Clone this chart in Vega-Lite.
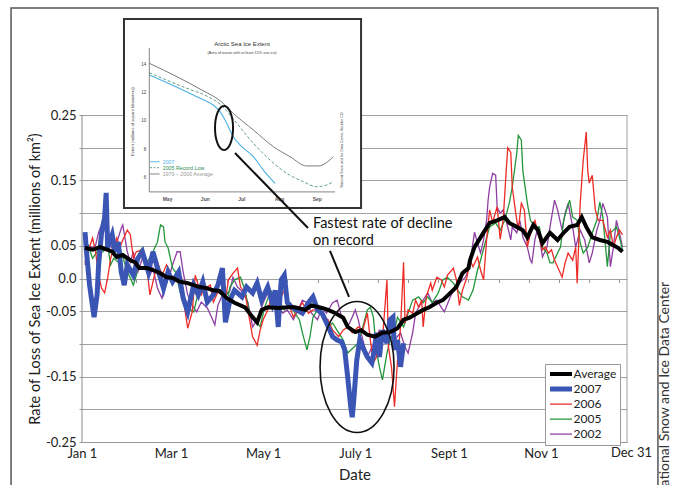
{
"$schema":"https://vega.github.io/schema/vega-lite/v6.json",
"width":545,"height":425,
"autosize":{"type":"none"},
"padding":{"left":82,"top":17,"right":46,"bottom":43},
"background":"white",
"config":{"view":{"stroke":null},"font":"Lato","text":{"font":"Lato"},
"legend":{"title":null,"orient":"none","legendX":463,"legendY":347,"strokeColor":"#999","fillColor":"white","padding":3,"rowPadding":0,"clipHeight":14.2,"labelFontSize":12,"labelFont":"Lato","labelColor":"#222","symbolType":"M-2.75,0L2.75,0","symbolSize":64,"symbolOffset":6.5,"labelOffset":6}},
"datasets":{
"main":[
{"series":"Average","day":2,"value":0.047},{"series":"Average","day":7,"value":0.044},{"series":"Average","day":12,"value":0.048},{"series":"Average","day":17,"value":0.044},{"series":"Average","day":20,"value":0.041},{"series":"Average","day":23,"value":0.033},{"series":"Average","day":27,"value":0.036},{"series":"Average","day":32,"value":0.028},{"series":"Average","day":35,"value":0.025},{"series":"Average","day":38,"value":0.016},{"series":"Average","day":43,"value":0.016},{"series":"Average","day":47,"value":0.013},{"series":"Average","day":52,"value":0.008},{"series":"Average","day":56,"value":0.002},{"series":"Average","day":60,"value":0.001},{"series":"Average","day":65,"value":-0.005},{"series":"Average","day":70,"value":-0.007},{"series":"Average","day":74,"value":-0.010},{"series":"Average","day":78,"value":-0.013},{"series":"Average","day":83,"value":-0.015},{"series":"Average","day":87,"value":-0.018},{"series":"Average","day":91,"value":-0.019},{"series":"Average","day":96,"value":-0.030},{"series":"Average","day":101,"value":-0.037},{"series":"Average","day":108,"value":-0.044},{"series":"Average","day":113,"value":-0.059},{"series":"Average","day":116,"value":-0.067},{"series":"Average","day":119,"value":-0.048},{"series":"Average","day":123,"value":-0.044},{"series":"Average","day":130,"value":-0.045},{"series":"Average","day":136,"value":-0.044},{"series":"Average","day":141,"value":-0.044},{"series":"Average","day":148,"value":-0.048},{"series":"Average","day":152,"value":-0.041},{"series":"Average","day":159,"value":-0.045},{"series":"Average","day":163,"value":-0.048},{"series":"Average","day":168,"value":-0.053},{"series":"Average","day":173,"value":-0.060},{"series":"Average","day":176,"value":-0.074},{"series":"Average","day":181,"value":-0.082},{"series":"Average","day":185,"value":-0.079},{"series":"Average","day":189,"value":-0.086},{"series":"Average","day":194,"value":-0.089},{"series":"Average","day":199,"value":-0.083},{"series":"Average","day":204,"value":-0.082},{"series":"Average","day":209,"value":-0.076},{"series":"Average","day":213,"value":-0.063},{"series":"Average","day":217,"value":-0.060},{"series":"Average","day":222,"value":-0.053},{"series":"Average","day":226,"value":-0.048},{"series":"Average","day":230,"value":-0.044},{"series":"Average","day":235,"value":-0.037},{"series":"Average","day":239,"value":-0.033},{"series":"Average","day":244,"value":-0.022},{"series":"Average","day":248,"value":-0.013},{"series":"Average","day":252,"value":0.008},{"series":"Average","day":256,"value":0.016},{"series":"Average","day":257,"value":0.028},{"series":"Average","day":260,"value":0.048},{"series":"Average","day":264,"value":0.063},{"series":"Average","day":267,"value":0.074},{"series":"Average","day":270,"value":0.085},{"series":"Average","day":275,"value":0.089},{"series":"Average","day":280,"value":0.094},{"series":"Average","day":283,"value":0.085},{"series":"Average","day":288,"value":0.079},{"series":"Average","day":292,"value":0.074},{"series":"Average","day":295,"value":0.063},{"series":"Average","day":299,"value":0.082},{"series":"Average","day":302,"value":0.074},{"series":"Average","day":305,"value":0.054},{"series":"Average","day":310,"value":0.070},{"series":"Average","day":315,"value":0.059},{"series":"Average","day":319,"value":0.070},{"series":"Average","day":323,"value":0.079},{"series":"Average","day":328,"value":0.082},{"series":"Average","day":331,"value":0.094},{"series":"Average","day":334,"value":0.079},{"series":"Average","day":338,"value":0.063},{"series":"Average","day":343,"value":0.059},{"series":"Average","day":348,"value":0.056},{"series":"Average","day":352,"value":0.051},{"series":"Average","day":355,"value":0.047},{"series":"Average","day":358,"value":0.041},
{"series":"2007","day":2,"value":0.071},{"series":"2007","day":3,"value":0.041},{"series":"2007","day":5,"value":-0.010},{"series":"2007","day":8,"value":-0.059},{"series":"2007","day":10,"value":-0.025},{"series":"2007","day":11,"value":0.021},{"series":"2007","day":13,"value":0.071},{"series":"2007","day":15,"value":0.093},{"series":"2007","day":16,"value":0.131},{"series":"2007","day":17,"value":0.047},{"series":"2007","day":20,"value":0.067},{"series":"2007","day":22,"value":0.041},{"series":"2007","day":24,"value":0.056},{"series":"2007","day":26,"value":0.010},{"series":"2007","day":28,"value":-0.010},{"series":"2007","day":30,"value":0.021},{"series":"2007","day":34,"value":0.005},{"series":"2007","day":37,"value":0.031},{"series":"2007","day":40,"value":0.041},{"series":"2007","day":44,"value":0.010},{"series":"2007","day":47,"value":0.041},{"series":"2007","day":50,"value":0.016},{"series":"2007","day":54,"value":-0.015},{"series":"2007","day":57,"value":0.010},{"series":"2007","day":60,"value":-0.005},{"series":"2007","day":64,"value":0.010},{"series":"2007","day":67,"value":-0.030},{"series":"2007","day":70,"value":-0.051},{"series":"2007","day":74,"value":-0.010},{"series":"2007","day":77,"value":-0.025},{"series":"2007","day":80,"value":-0.005},{"series":"2007","day":83,"value":-0.036},{"series":"2007","day":87,"value":-0.025},{"series":"2007","day":90,"value":-0.010},{"series":"2007","day":93,"value":0.016},{"series":"2007","day":95,"value":-0.067},{"series":"2007","day":98,"value":-0.033},{"series":"2007","day":101,"value":-0.018},{"series":"2007","day":106,"value":-0.028},{"series":"2007","day":109,"value":-0.013},{"series":"2007","day":113,"value":-0.022},{"series":"2007","day":116,"value":-0.007},{"series":"2007","day":119,"value":-0.033},{"series":"2007","day":123,"value":-0.013},{"series":"2007","day":126,"value":-0.037},{"series":"2007","day":128,"value":-0.018},{"series":"2007","day":130,"value":-0.074},{"series":"2007","day":131,"value":-0.033},{"series":"2007","day":132,"value":-0.002},{"series":"2007","day":134,"value":0.005},{"series":"2007","day":136,"value":-0.037},{"series":"2007","day":139,"value":-0.044},{"series":"2007","day":142,"value":-0.048},{"series":"2007","day":146,"value":-0.053},{"series":"2007","day":150,"value":-0.037},{"series":"2007","day":153,"value":-0.028},{"series":"2007","day":156,"value":-0.048},{"series":"2007","day":159,"value":-0.053},{"series":"2007","day":162,"value":-0.068},{"series":"2007","day":166,"value":-0.089},{"series":"2007","day":169,"value":-0.094},{"series":"2007","day":172,"value":-0.097},{"series":"2007","day":174,"value":-0.109},{"series":"2007","day":176,"value":-0.151},{"series":"2007","day":178,"value":-0.196},{"series":"2007","day":179,"value":-0.212},{"series":"2007","day":180,"value":-0.186},{"series":"2007","day":182,"value":-0.125},{"series":"2007","day":184,"value":-0.094},{"series":"2007","day":186,"value":-0.105},{"series":"2007","day":189,"value":-0.120},{"series":"2007","day":192,"value":-0.129},{"series":"2007","day":194,"value":-0.105},{"series":"2007","day":195,"value":-0.083},{"series":"2007","day":197,"value":-0.120},{"series":"2007","day":199,"value":-0.079},{"series":"2007","day":202,"value":-0.099},{"series":"2007","day":204,"value":-0.063},{"series":"2007","day":206,"value":-0.059},{"series":"2007","day":207,"value":-0.109},{"series":"2007","day":209,"value":-0.094},{"series":"2007","day":211,"value":-0.135},{"series":"2007","day":213,"value":-0.099},
{"series":"2006","day":2,"value":0.025},{"series":"2006","day":4,"value":0.041},{"series":"2006","day":7,"value":0.062},{"series":"2006","day":9,"value":0.041},{"series":"2006","day":11,"value":0.005},{"series":"2006","day":13,"value":-0.015},{"series":"2006","day":15,"value":-0.022},{"series":"2006","day":17,"value":0.001},{"series":"2006","day":19,"value":0.031},{"series":"2006","day":21,"value":0.047},{"series":"2006","day":23,"value":0.062},{"series":"2006","day":25,"value":0.047},{"series":"2006","day":27,"value":0.059},{"series":"2006","day":30,"value":0.074},{"series":"2006","day":32,"value":0.067},{"series":"2006","day":34,"value":0.031},{"series":"2006","day":36,"value":0.041},{"series":"2006","day":40,"value":0.044},{"series":"2006","day":43,"value":0.016},{"series":"2006","day":45,"value":-0.025},{"series":"2006","day":47,"value":-0.005},{"series":"2006","day":50,"value":0.025},{"series":"2006","day":53,"value":0.005},{"series":"2006","day":56,"value":0.021},{"series":"2006","day":60,"value":0.001},{"series":"2006","day":63,"value":-0.005},{"series":"2006","day":66,"value":0.001},{"series":"2006","day":68,"value":-0.045},{"series":"2006","day":70,"value":-0.076},{"series":"2006","day":73,"value":-0.051},{"series":"2006","day":75,"value":0.005},{"series":"2006","day":77,"value":-0.010},{"series":"2006","day":79,"value":-0.025},{"series":"2006","day":81,"value":-0.015},{"series":"2006","day":85,"value":-0.010},{"series":"2006","day":87,"value":-0.036},{"series":"2006","day":90,"value":-0.021},{"series":"2006","day":93,"value":-0.025},{"series":"2006","day":95,"value":-0.033},{"series":"2006","day":97,"value":-0.002},{"series":"2006","day":100,"value":0.008},{"series":"2006","day":103,"value":0.016},{"series":"2006","day":105,"value":-0.013},{"series":"2006","day":108,"value":-0.022},{"series":"2006","day":111,"value":-0.063},{"series":"2006","day":113,"value":-0.089},{"series":"2006","day":116,"value":-0.102},{"series":"2006","day":118,"value":-0.079},{"series":"2006","day":120,"value":-0.063},{"series":"2006","day":123,"value":-0.048},{"series":"2006","day":125,"value":-0.033},{"series":"2006","day":128,"value":-0.022},{"series":"2006","day":131,"value":-0.033},{"series":"2006","day":134,"value":-0.018},{"series":"2006","day":136,"value":-0.033},{"series":"2006","day":140,"value":-0.059},{"series":"2006","day":143,"value":-0.048},{"series":"2006","day":146,"value":-0.037},{"series":"2006","day":150,"value":-0.053},{"series":"2006","day":153,"value":-0.048},{"series":"2006","day":156,"value":-0.048},{"series":"2006","day":160,"value":-0.059},{"series":"2006","day":163,"value":-0.063},{"series":"2006","day":166,"value":-0.079},{"series":"2006","day":170,"value":-0.089},{"series":"2006","day":173,"value":-0.079},{"series":"2006","day":176,"value":-0.074},{"series":"2006","day":179,"value":-0.083},{"series":"2006","day":183,"value":-0.074},{"series":"2006","day":186,"value":-0.079},{"series":"2006","day":189,"value":-0.053},{"series":"2006","day":191,"value":-0.094},{"series":"2006","day":193,"value":-0.129},{"series":"2006","day":195,"value":-0.120},{"series":"2006","day":197,"value":-0.083},{"series":"2006","day":199,"value":-0.094},{"series":"2006","day":202,"value":-0.002},{"series":"2006","day":203,"value":-0.105},{"series":"2006","day":205,"value":-0.135},{"series":"2006","day":207,"value":-0.196},{"series":"2006","day":209,"value":-0.125},{"series":"2006","day":211,"value":-0.074},{"series":"2006","day":213,"value":0.025},{"series":"2006","day":214,"value":-0.068},{"series":"2006","day":216,"value":-0.048},{"series":"2006","day":219,"value":-0.053},{"series":"2006","day":221,"value":-0.033},{"series":"2006","day":223,"value":-0.044},{"series":"2006","day":225,"value":-0.033},{"series":"2006","day":226,"value":-0.074},{"series":"2006","day":228,"value":-0.028},{"series":"2006","day":231,"value":-0.007},{"series":"2006","day":232,"value":-0.018},{"series":"2006","day":235,"value":0.002},{"series":"2006","day":238,"value":-0.002},{"series":"2006","day":240,"value":-0.013},{"series":"2006","day":242,"value":0.005},{"series":"2006","day":246,"value":0.016},{"series":"2006","day":248,"value":-0.002},{"series":"2006","day":250,"value":-0.041},{"series":"2006","day":252,"value":-0.018},{"series":"2006","day":255,"value":0.002},{"series":"2006","day":257,"value":0.028},{"series":"2006","day":259,"value":0.018},{"series":"2006","day":262,"value":0.033},{"series":"2006","day":264,"value":0.013},{"series":"2006","day":266,"value":-0.002},{"series":"2006","day":268,"value":0.059},{"series":"2006","day":270,"value":0.105},{"series":"2006","day":272,"value":0.086},{"series":"2006","day":275,"value":0.110},{"series":"2006","day":277,"value":0.060},{"series":"2006","day":279,"value":0.090},{"series":"2006","day":281,"value":0.165},{"series":"2006","day":282,"value":0.200},{"series":"2006","day":284,"value":0.193},{"series":"2006","day":285,"value":0.140},{"series":"2006","day":287,"value":0.105},{"series":"2006","day":289,"value":0.074},{"series":"2006","day":291,"value":0.115},{"series":"2006","day":293,"value":0.105},{"series":"2006","day":295,"value":0.048},{"series":"2006","day":298,"value":0.079},{"series":"2006","day":300,"value":0.089},{"series":"2006","day":302,"value":0.070},{"series":"2006","day":305,"value":0.044},{"series":"2006","day":307,"value":0.048},{"series":"2006","day":309,"value":0.039},{"series":"2006","day":311,"value":0.044},{"series":"2006","day":313,"value":0.028},{"series":"2006","day":315,"value":0.018},{"series":"2006","day":318,"value":0.002},{"series":"2006","day":320,"value":0.024},{"series":"2006","day":322,"value":0.039},{"series":"2006","day":325,"value":0.028},{"series":"2006","day":327,"value":0.048},{"series":"2006","day":328,"value":-0.007},{"series":"2006","day":330,"value":0.115},{"series":"2006","day":332,"value":0.181},{"series":"2006","day":334,"value":0.224},{"series":"2006","day":335,"value":0.165},{"series":"2006","day":336,"value":0.146},{"series":"2006","day":338,"value":0.158},{"series":"2006","day":340,"value":0.105},{"series":"2006","day":342,"value":0.089},{"series":"2006","day":345,"value":0.089},{"series":"2006","day":348,"value":0.063},{"series":"2006","day":350,"value":0.074},{"series":"2006","day":352,"value":0.048},{"series":"2006","day":354,"value":0.063},{"series":"2006","day":356,"value":0.074},{"series":"2006","day":358,"value":0.067},
{"series":"2005","day":2,"value":0.041},{"series":"2005","day":4,"value":0.051},{"series":"2005","day":7,"value":0.031},{"series":"2005","day":10,"value":0.041},{"series":"2005","day":12,"value":0.062},{"series":"2005","day":14,"value":0.041},{"series":"2005","day":17,"value":0.051},{"series":"2005","day":19,"value":0.021},{"series":"2005","day":21,"value":0.031},{"series":"2005","day":24,"value":0.025},{"series":"2005","day":26,"value":0.041},{"series":"2005","day":30,"value":0.010},{"series":"2005","day":32,"value":0.001},{"series":"2005","day":34,"value":-0.010},{"series":"2005","day":36,"value":0.005},{"series":"2005","day":38,"value":0.041},{"series":"2005","day":40,"value":0.047},{"series":"2005","day":43,"value":0.025},{"series":"2005","day":46,"value":0.036},{"series":"2005","day":50,"value":0.056},{"series":"2005","day":52,"value":0.082},{"series":"2005","day":54,"value":0.079},{"series":"2005","day":55,"value":0.056},{"series":"2005","day":57,"value":0.047},{"series":"2005","day":60,"value":0.016},{"series":"2005","day":62,"value":0.010},{"series":"2005","day":65,"value":-0.021},{"series":"2005","day":68,"value":-0.030},{"series":"2005","day":70,"value":-0.045},{"series":"2005","day":74,"value":-0.051},{"series":"2005","day":77,"value":-0.021},{"series":"2005","day":80,"value":-0.005},{"series":"2005","day":83,"value":-0.015},{"series":"2005","day":87,"value":-0.021},{"series":"2005","day":90,"value":-0.005},{"series":"2005","day":93,"value":-0.010},{"series":"2005","day":97,"value":-0.025},{"series":"2005","day":98,"value":-0.013},{"series":"2005","day":101,"value":-0.002},{"series":"2005","day":105,"value":0.002},{"series":"2005","day":108,"value":-0.018},{"series":"2005","day":111,"value":-0.053},{"series":"2005","day":115,"value":-0.063},{"series":"2005","day":118,"value":-0.074},{"series":"2005","day":121,"value":-0.044},{"series":"2005","day":125,"value":-0.018},{"series":"2005","day":128,"value":-0.028},{"series":"2005","day":131,"value":-0.037},{"series":"2005","day":134,"value":-0.048},{"series":"2005","day":138,"value":-0.037},{"series":"2005","day":141,"value":-0.053},{"series":"2005","day":144,"value":-0.063},{"series":"2005","day":146,"value":-0.083},{"series":"2005","day":149,"value":-0.109},{"series":"2005","day":151,"value":-0.089},{"series":"2005","day":153,"value":-0.059},{"series":"2005","day":156,"value":-0.048},{"series":"2005","day":160,"value":-0.059},{"series":"2005","day":163,"value":-0.074},{"series":"2005","day":166,"value":-0.068},{"series":"2005","day":170,"value":-0.083},{"series":"2005","day":173,"value":-0.094},{"series":"2005","day":176,"value":-0.114},{"series":"2005","day":180,"value":-0.105},{"series":"2005","day":183,"value":-0.099},{"series":"2005","day":186,"value":-0.074},{"series":"2005","day":189,"value":-0.048},{"series":"2005","day":191,"value":-0.044},{"series":"2005","day":193,"value":-0.059},{"series":"2005","day":195,"value":-0.109},{"series":"2005","day":197,"value":-0.135},{"series":"2005","day":199,"value":-0.155},{"series":"2005","day":202,"value":-0.114},{"series":"2005","day":204,"value":-0.094},{"series":"2005","day":207,"value":-0.079},{"series":"2005","day":209,"value":-0.059},{"series":"2005","day":213,"value":-0.074},{"series":"2005","day":216,"value":-0.053},{"series":"2005","day":219,"value":-0.033},{"series":"2005","day":223,"value":-0.028},{"series":"2005","day":226,"value":-0.037},{"series":"2005","day":229,"value":-0.028},{"series":"2005","day":232,"value":-0.037},{"series":"2005","day":236,"value":-0.022},{"series":"2005","day":239,"value":-0.002},{"series":"2005","day":242,"value":0.002},{"series":"2005","day":246,"value":-0.007},{"series":"2005","day":249,"value":-0.018},{"series":"2005","day":252,"value":-0.028},{"series":"2005","day":256,"value":-0.033},{"series":"2005","day":259,"value":-0.018},{"series":"2005","day":262,"value":0.013},{"series":"2005","day":264,"value":0.028},{"series":"2005","day":267,"value":0.054},{"series":"2005","day":270,"value":0.079},{"series":"2005","day":274,"value":0.085},{"series":"2005","day":277,"value":0.074},{"series":"2005","day":280,"value":0.089},{"series":"2005","day":283,"value":0.115},{"series":"2005","day":285,"value":0.140},{"series":"2005","day":288,"value":0.192},{"series":"2005","day":289,"value":0.219},{"series":"2005","day":291,"value":0.212},{"series":"2005","day":292,"value":0.165},{"series":"2005","day":295,"value":0.115},{"series":"2005","day":297,"value":0.089},{"series":"2005","day":300,"value":0.079},{"series":"2005","day":303,"value":0.079},{"series":"2005","day":305,"value":0.048},{"series":"2005","day":308,"value":0.039},{"series":"2005","day":310,"value":0.024},{"series":"2005","day":312,"value":0.024},{"series":"2005","day":315,"value":0.039},{"series":"2005","day":317,"value":0.048},{"series":"2005","day":319,"value":0.089},{"series":"2005","day":321,"value":0.105},{"series":"2005","day":323,"value":0.120},{"series":"2005","day":325,"value":0.094},{"series":"2005","day":328,"value":0.089},{"series":"2005","day":330,"value":0.054},{"series":"2005","day":332,"value":0.039},{"series":"2005","day":335,"value":0.048},{"series":"2005","day":338,"value":0.070},{"series":"2005","day":341,"value":0.089},{"series":"2005","day":343,"value":0.117},{"series":"2005","day":345,"value":0.094},{"series":"2005","day":348,"value":0.018},{"series":"2005","day":350,"value":0.070},{"series":"2005","day":352,"value":0.074},{"series":"2005","day":354,"value":0.079},{"series":"2005","day":356,"value":0.063},{"series":"2005","day":358,"value":0.044},
{"series":"2002","day":2,"value":0.021},{"series":"2002","day":4,"value":0.051},{"series":"2002","day":7,"value":0.047},{"series":"2002","day":9,"value":0.051},{"series":"2002","day":11,"value":0.071},{"series":"2002","day":13,"value":0.082},{"series":"2002","day":14,"value":0.079},{"series":"2002","day":17,"value":0.067},{"series":"2002","day":19,"value":0.051},{"series":"2002","day":21,"value":0.041},{"series":"2002","day":24,"value":0.062},{"series":"2002","day":26,"value":0.077},{"series":"2002","day":27,"value":0.082},{"series":"2002","day":30,"value":0.041},{"series":"2002","day":32,"value":0.025},{"series":"2002","day":34,"value":0.041},{"series":"2002","day":37,"value":0.010},{"series":"2002","day":40,"value":0.031},{"series":"2002","day":43,"value":0.021},{"series":"2002","day":45,"value":0.005},{"series":"2002","day":47,"value":0.016},{"series":"2002","day":50,"value":-0.015},{"series":"2002","day":53,"value":-0.030},{"series":"2002","day":55,"value":-0.010},{"series":"2002","day":58,"value":0.005},{"series":"2002","day":60,"value":0.021},{"series":"2002","day":63,"value":0.041},{"series":"2002","day":65,"value":0.041},{"series":"2002","day":67,"value":0.010},{"series":"2002","day":70,"value":-0.025},{"series":"2002","day":73,"value":-0.041},{"series":"2002","day":76,"value":-0.051},{"series":"2002","day":79,"value":-0.036},{"series":"2002","day":83,"value":-0.045},{"series":"2002","day":86,"value":-0.060},{"series":"2002","day":88,"value":-0.071},{"series":"2002","day":90,"value":-0.041},{"series":"2002","day":93,"value":-0.025},{"series":"2002","day":97,"value":-0.021},{"series":"2002","day":98,"value":-0.018},{"series":"2002","day":100,"value":0.002},{"series":"2002","day":103,"value":-0.013},{"series":"2002","day":107,"value":-0.022},{"series":"2002","day":110,"value":-0.037},{"series":"2002","day":113,"value":-0.074},{"series":"2002","day":117,"value":-0.059},{"series":"2002","day":120,"value":-0.037},{"series":"2002","day":123,"value":-0.022},{"series":"2002","day":126,"value":-0.028},{"series":"2002","day":130,"value":-0.044},{"series":"2002","day":133,"value":-0.053},{"series":"2002","day":136,"value":-0.048},{"series":"2002","day":140,"value":-0.063},{"series":"2002","day":143,"value":-0.048},{"series":"2002","day":146,"value":-0.033},{"series":"2002","day":149,"value":-0.037},{"series":"2002","day":152,"value":-0.053},{"series":"2002","day":156,"value":-0.063},{"series":"2002","day":159,"value":-0.044},{"series":"2002","day":162,"value":-0.053},{"series":"2002","day":166,"value":-0.037},{"series":"2002","day":169,"value":-0.033},{"series":"2002","day":172,"value":-0.059},{"series":"2002","day":176,"value":-0.074},{"series":"2002","day":179,"value":-0.059},{"series":"2002","day":181,"value":-0.048},{"series":"2002","day":183,"value":-0.063},{"series":"2002","day":186,"value":-0.094},{"series":"2002","day":189,"value":-0.120},{"series":"2002","day":192,"value":-0.105},{"series":"2002","day":194,"value":-0.094},{"series":"2002","day":197,"value":-0.079},{"series":"2002","day":201,"value":-0.083},{"series":"2002","day":204,"value":-0.089},{"series":"2002","day":207,"value":-0.094},{"series":"2002","day":211,"value":-0.083},{"series":"2002","day":214,"value":-0.105},{"series":"2002","day":216,"value":-0.114},{"series":"2002","day":219,"value":-0.083},{"series":"2002","day":221,"value":-0.053},{"series":"2002","day":223,"value":-0.044},{"series":"2002","day":226,"value":-0.033},{"series":"2002","day":229,"value":-0.022},{"series":"2002","day":232,"value":-0.037},{"series":"2002","day":235,"value":-0.033},{"series":"2002","day":238,"value":-0.044},{"series":"2002","day":240,"value":-0.051},{"series":"2002","day":244,"value":-0.028},{"series":"2002","day":247,"value":-0.013},{"series":"2002","day":250,"value":-0.007},{"series":"2002","day":254,"value":0.002},{"series":"2002","day":256,"value":0.013},{"series":"2002","day":258,"value":0.039},{"series":"2002","day":260,"value":0.071},{"series":"2002","day":262,"value":0.054},{"series":"2002","day":264,"value":0.039},{"series":"2002","day":266,"value":0.059},{"series":"2002","day":268,"value":0.089},{"series":"2002","day":269,"value":0.120},{"series":"2002","day":270,"value":0.140},{"series":"2002","day":272,"value":0.161},{"series":"2002","day":274,"value":0.158},{"series":"2002","day":275,"value":0.109},{"series":"2002","day":277,"value":0.100},{"series":"2002","day":279,"value":0.105},{"series":"2002","day":282,"value":0.079},{"series":"2002","day":284,"value":0.059},{"series":"2002","day":285,"value":0.079},{"series":"2002","day":288,"value":0.070},{"series":"2002","day":290,"value":0.089},{"series":"2002","day":292,"value":0.063},{"series":"2002","day":295,"value":0.048},{"series":"2002","day":297,"value":0.028},{"series":"2002","day":298,"value":0.024},{"series":"2002","day":300,"value":0.059},{"series":"2002","day":302,"value":0.079},{"series":"2002","day":305,"value":0.033},{"series":"2002","day":308,"value":0.048},{"series":"2002","day":310,"value":0.079},{"series":"2002","day":313,"value":0.120},{"series":"2002","day":315,"value":0.105},{"series":"2002","day":318,"value":0.074},{"series":"2002","day":320,"value":0.100},{"series":"2002","day":322,"value":0.115},{"series":"2002","day":325,"value":0.079},{"series":"2002","day":327,"value":0.048},{"series":"2002","day":330,"value":0.074},{"series":"2002","day":333,"value":0.059},{"series":"2002","day":336,"value":0.024},{"series":"2002","day":338,"value":0.039},{"series":"2002","day":341,"value":0.074},{"series":"2002","day":343,"value":0.089},{"series":"2002","day":345,"value":0.115},{"series":"2002","day":348,"value":0.094},{"series":"2002","day":350,"value":0.018},{"series":"2002","day":352,"value":0.048},{"series":"2002","day":354,"value":0.089},{"series":"2002","day":356,"value":0.070},{"series":"2002","day":358,"value":0.048}
],
"inset":[
{"line":"avg","day":120,"extent":14.12},{"line":"avg","day":145.2,"extent":13.06},{"line":"avg","day":163,"extent":12.23},{"line":"avg","day":178.1,"extent":11.47},{"line":"avg","day":189,"extent":10.57},{"line":"avg","day":205.5,"extent":9.39},{"line":"avg","day":221.9,"extent":8.21},{"line":"avg","day":235.6,"extent":7.5},{"line":"avg","day":249.3,"extent":6.84},{"line":"avg","day":258.9,"extent":6.84},{"line":"avg","day":271.3,"extent":7.5},
{"line":"2005","day":120,"extent":13.45},{"line":"2005","day":150.7,"extent":12.35},{"line":"2005","day":167.2,"extent":11.8},{"line":"2005","day":178.1,"extent":11.23},{"line":"2005","day":191.8,"extent":9.87},{"line":"2005","day":205.5,"extent":8.45},{"line":"2005","day":219.2,"extent":7.26},{"line":"2005","day":232.9,"extent":6.32},{"line":"2005","day":246.5,"extent":5.72},{"line":"2005","day":257.5,"extent":5.37},{"line":"2005","day":265.8,"extent":5.49},{"line":"2005","day":271.2,"extent":5.72},
{"line":"2007","day":120,"extent":13.29},{"line":"2007","day":137,"extent":12.65},{"line":"2007","day":150.7,"extent":12.11},{"line":"2007","day":161.7,"extent":11.64},{"line":"2007","day":172.6,"extent":11.16},{"line":"2007","day":178.1,"extent":10.69},{"line":"2007","day":183.6,"extent":9.87},{"line":"2007","day":189,"extent":8.91},{"line":"2007","day":194.5,"extent":8.33},{"line":"2007","day":205.5,"extent":7.5},{"line":"2007","day":213.7,"extent":6.55},{"line":"2007","day":223.3,"extent":5.61}
]
},
"layer":[
{
"resolve":{"axis":{"x":"independent"}},
"layer":[
{"data":{"values":[{}]},"mark":{"type":"rect","fill":"white","fillOpacity":0,"stroke":"#555","strokeWidth":1.5},
 "encoding":{"x":{"datum":-47,"type":"quantitative","scale":{"domain":[0,361],"nice":false,"zero":false},"axis":null},"x2":{"datum":381.5},
 "y":{"datum":0.4138,"type":"quantitative","scale":{"domain":[-0.25,0.4],"nice":false,"zero":false}},"y2":{"datum":-0.335}}},
{"data":{"name":"main"},"transform":[{"filter":"datum.series === '2002'"}],"mark":{"type":"line"},
 "encoding":{
  "x":{"field":"day","type":"quantitative","scale":{"domain":[0,361],"nice":false,"zero":false},
   "axis":{"values":[0,59,120,181,243,304],"labelExpr":"datum.value == 0 ? 'Jan 1' : datum.value == 59 ? 'Mar 1' : datum.value == 120 ? 'May 1' : datum.value == 181 ? 'July 1' : datum.value == 243 ? 'Sept 1' : 'Nov 1'","ticks":false,"grid":false,"domainColor":"#999","labelFontSize":13,"labelColor":"#222","labelPadding":5,"labelFlush":false,"labelOverlap":false,"labelBound":false,"title":"Date","titleFontSize":15,"titleFontWeight":"normal","titleColor":"#222","titlePadding":7}},
  "y":{"field":"value","type":"quantitative","scale":{"domain":[-0.25,0.4],"nice":false,"zero":false},
   "axis":{"values":[-0.25,-0.2,-0.15,-0.1,-0.05,0,0.05,0.1,0.15,0.2,0.25],"labelExpr":"datum.value == 0 ? '0.0' : ((abs(datum.value) > 0.09 && abs(datum.value) < 0.11) || (abs(datum.value) > 0.19 && abs(datum.value) < 0.21)) ? '' : ((datum.value < 0 ? '-' : '') + format(abs(datum.value), '.2f'))","grid":true,"gridColor":"#a0a0a0","domain":false,"tickSize":3,"tickColor":"#999","labelFontSize":13,"labelColor":"#222","labelPadding":3,"labelOverlap":false,"title":"Rate of Loss of Sea Ice Extent (millions of km²)","titleFontSize":14.5,"titleFontWeight":"normal","titleColor":"#222","titleX":-47,"titleY":261.5,"titleBaseline":"middle"}},
  "color":{"field":"series","type":"nominal","scale":{"domain":["Average","2007","2006","2005","2002"],"range":["#000000","#3a55b4","#ee2b25","#23963a","#8f3fa3"]},"legend":{"title":null}},
  "strokeWidth":{"field":"series","type":"nominal","scale":{"type":"ordinal","domain":["Average","2007","2006","2005","2002"],"range":[4,5,1.3,1.3,1.3]},"legend":{"title":null}}}},
{"data":{"name":"main"},"transform":[{"filter":"datum.series === '2005'"}],"mark":{"type":"line"},
 "encoding":{"x":{"field":"day","type":"quantitative","scale":{"domain":[0,361],"nice":false,"zero":false},"axis":null},"y":{"field":"value","type":"quantitative","scale":{"domain":[-0.25,0.4],"nice":false,"zero":false}},
  "color":{"field":"series","type":"nominal","scale":{"domain":["Average","2007","2006","2005","2002"],"range":["#000000","#3a55b4","#ee2b25","#23963a","#8f3fa3"]},"legend":{"title":null}},
  "strokeWidth":{"field":"series","type":"nominal","scale":{"type":"ordinal","domain":["Average","2007","2006","2005","2002"],"range":[4,5,1.3,1.3,1.3]},"legend":{"title":null}}}},
{"data":{"name":"main"},"transform":[{"filter":"datum.series === '2006'"}],"mark":{"type":"line"},
 "encoding":{"x":{"field":"day","type":"quantitative","scale":{"domain":[0,361],"nice":false,"zero":false},"axis":null},"y":{"field":"value","type":"quantitative","scale":{"domain":[-0.25,0.4],"nice":false,"zero":false}},
  "color":{"field":"series","type":"nominal","scale":{"domain":["Average","2007","2006","2005","2002"],"range":["#000000","#3a55b4","#ee2b25","#23963a","#8f3fa3"]},"legend":{"title":null}},
  "strokeWidth":{"field":"series","type":"nominal","scale":{"type":"ordinal","domain":["Average","2007","2006","2005","2002"],"range":[4,5,1.3,1.3,1.3]},"legend":{"title":null}}}},
{"data":{"name":"main"},"transform":[{"filter":"datum.series === '2007'"}],"mark":{"type":"line"},
 "encoding":{"x":{"field":"day","type":"quantitative","scale":{"domain":[0,361],"nice":false,"zero":false},"axis":null},"y":{"field":"value","type":"quantitative","scale":{"domain":[-0.25,0.4],"nice":false,"zero":false}},
  "color":{"field":"series","type":"nominal","scale":{"domain":["Average","2007","2006","2005","2002"],"range":["#000000","#3a55b4","#ee2b25","#23963a","#8f3fa3"]},"legend":{"title":null}},
  "strokeWidth":{"field":"series","type":"nominal","scale":{"type":"ordinal","domain":["Average","2007","2006","2005","2002"],"range":[4,5,1.3,1.3,1.3]},"legend":{"title":null}}}},
{"data":{"name":"main"},"transform":[{"filter":"datum.series === 'Average'"}],"mark":{"type":"line"},
 "encoding":{"x":{"field":"day","type":"quantitative","scale":{"domain":[0,361],"nice":false,"zero":false},"axis":null},"y":{"field":"value","type":"quantitative","scale":{"domain":[-0.25,0.4],"nice":false,"zero":false}},
  "color":{"field":"series","type":"nominal","scale":{"domain":["Average","2007","2006","2005","2002"],"range":["#000000","#3a55b4","#ee2b25","#23963a","#8f3fa3"]},"legend":{"title":null}},
  "strokeWidth":{"field":"series","type":"nominal","scale":{"type":"ordinal","domain":["Average","2007","2006","2005","2002"],"range":[4,5,1.3,1.3,1.3]},"legend":{"title":null}}}},
{"data":{"values":[{}]},"mark":{"type":"rule","color":"#888","strokeWidth":1},
 "encoding":{"x":{"datum":0,"type":"quantitative","scale":{"domain":[0,361],"nice":false,"zero":false},
   "axis":{"orient":"bottom","offset":-163.5,"values":[16,36,56,76,96,116,136,156,176,196,216,236,256,276,296,316,336,356],"labels":false,"domain":false,"grid":false,"ticks":true,"tickSize":4,"tickColor":"#999","title":null}},
  "y":{"datum":-0.25,"type":"quantitative","scale":{"domain":[-0.25,0.4],"nice":false,"zero":false}},"y2":{"datum":0.25}}},
{"data":{"values":[{}]},"mark":{"type":"rule","color":"#a0a0a0","strokeWidth":1},
 "encoding":{"x":{"datum":361,"type":"quantitative","scale":{"domain":[0,361],"nice":false,"zero":false},"axis":null},
  "y":{"datum":-0.25,"type":"quantitative","scale":{"domain":[-0.25,0.4],"nice":false,"zero":false}},"y2":{"datum":0.25}}},
{"data":{"values":[{}]},"mark":{"type":"text","text":"Dec 31","align":"center","baseline":"middle","fontSize":13,"color":"#222"},
 "encoding":{"x":{"datum":364,"type":"quantitative","scale":{"domain":[0,361],"nice":false,"zero":false},"axis":null},
  "y":{"datum":-0.2668,"type":"quantitative","scale":{"domain":[-0.25,0.4],"nice":false,"zero":false}}}},
{"data":{"values":[{}]},"mark":{"type":"point","shape":"M-0.565,0A0.565,1,0,1,0,0.565,0A0.565,1,0,1,0,-0.565,0Z","size":17161,"filled":false,"color":"#111","strokeWidth":1.6,"opacity":1},
 "encoding":{"x":{"datum":182.2,"type":"quantitative","scale":{"domain":[0,361],"nice":false,"zero":false},"axis":null},
  "y":{"datum":-0.1353,"type":"quantitative","scale":{"domain":[-0.25,0.4],"nice":false,"zero":false}}}},
{"data":{"values":[{}]},"mark":{"type":"text","text":["Fastest rate of decline","on record"],"align":"left","baseline":"alphabetic","lineHeight":17,"fontSize":14.5,"color":"#111"},
 "encoding":{"x":{"datum":153,"type":"quantitative","scale":{"domain":[0,361],"nice":false,"zero":false},"axis":null},
  "y":{"datum":0.0773,"type":"quantitative","scale":{"domain":[-0.25,0.4],"nice":false,"zero":false}}}},
{"data":{"values":[{}]},"mark":{"type":"text","text":"National Snow and Ice Data Center","align":"right","baseline":"middle","angle":270,"fontSize":14,"color":"#333"},
 "encoding":{"x":{"datum":386.2,"type":"quantitative","scale":{"domain":[0,361],"nice":false,"zero":false},"axis":null},
  "y":{"datum":-0.005,"type":"quantitative","scale":{"domain":[-0.25,0.4],"nice":false,"zero":false}}}}
]
},
{
"layer":[
{"data":{"values":[{}]},"mark":{"type":"rect","fill":"white","stroke":"#333","strokeWidth":2},
 "encoding":{"x":{"datum":99.2,"type":"quantitative","scale":{"domain":[64.7,512.52],"nice":false,"zero":false},"axis":null},"x2":{"datum":294},
  "y":{"datum":3.86,"type":"quantitative","scale":{"domain":[-12.738,17.404],"nice":false,"zero":false},"axis":null},"y2":{"datum":17.26}}},
{"data":{"name":"inset"},"transform":[{"filter":"datum.line === 'avg'"}],"mark":{"type":"line","color":"#7a7a7a","strokeWidth":1,"interpolate":"monotone"},
 "encoding":{"x":{"field":"day","type":"quantitative","scale":{"domain":[64.7,512.52],"nice":false,"zero":false},"axis":null},"y":{"field":"extent","type":"quantitative","scale":{"domain":[-12.738,17.404],"nice":false,"zero":false},"axis":null}}},
{"data":{"name":"inset"},"transform":[{"filter":"datum.line === '2005'"}],"mark":{"type":"line","color":"#5e9e8a","strokeWidth":1,"strokeDash":[3,2],"interpolate":"monotone"},
 "encoding":{"x":{"field":"day","type":"quantitative","scale":{"domain":[64.7,512.52],"nice":false,"zero":false},"axis":null},"y":{"field":"extent","type":"quantitative","scale":{"domain":[-12.738,17.404],"nice":false,"zero":false},"axis":null}}},
{"data":{"name":"inset"},"transform":[{"filter":"datum.line === '2007'"}],"mark":{"type":"line","color":"#4db1e6","strokeWidth":1.1,"interpolate":"monotone"},
 "encoding":{"x":{"field":"day","type":"quantitative","scale":{"domain":[64.7,512.52],"nice":false,"zero":false},"axis":null},"y":{"field":"extent","type":"quantitative","scale":{"domain":[-12.738,17.404],"nice":false,"zero":false},"axis":null}}},
{"data":{"values":[{}]},"mark":{"type":"rule","color":"#666","strokeWidth":0.8},
 "encoding":{"x":{"datum":120,"type":"quantitative","scale":{"domain":[64.7,512.52],"nice":false,"zero":false},"axis":null},
  "y":{"datum":5,"type":"quantitative","scale":{"domain":[-12.738,17.404],"nice":false,"zero":false},"axis":null},"y2":{"datum":15.2}}},
{"data":{"values":[{}]},"mark":{"type":"rule","color":"#666","strokeWidth":0.8},
 "encoding":{"x":{"datum":120,"type":"quantitative","scale":{"domain":[64.7,512.52],"nice":false,"zero":false},"axis":null},"x2":{"datum":272.6},
  "y":{"datum":5,"type":"quantitative","scale":{"domain":[-12.738,17.404],"nice":false,"zero":false},"axis":null}}},
{"data":{"values":[{"tick":6},{"tick":8},{"tick":10},{"tick":12},{"tick":14}]},"mark":{"type":"text","align":"right","baseline":"middle","fontSize":4.5,"font":"Liberation Sans","color":"#444"},
 "encoding":{"x":{"datum":117.5,"type":"quantitative","scale":{"domain":[64.7,512.52],"nice":false,"zero":false},"axis":null},
  "y":{"field":"tick","type":"quantitative","scale":{"domain":[-12.738,17.404],"nice":false,"zero":false},"axis":null},"text":{"field":"tick"}}},
{"data":{"values":[{"month":"May","mid":135},{"month":"Jun","mid":166},{"month":"Jul","mid":196},{"month":"Aug","mid":227},{"month":"Sep","mid":258}]},"mark":{"type":"text","align":"center","baseline":"middle","fontSize":5,"fontWeight":"bold","font":"Liberation Sans","color":"#555"},
 "encoding":{"x":{"field":"mid","type":"quantitative","scale":{"domain":[64.7,512.52],"nice":false,"zero":false},"axis":null},
  "y":{"datum":4.5,"type":"quantitative","scale":{"domain":[-12.738,17.404],"nice":false,"zero":false},"axis":null},"text":{"field":"month"}}},
{"data":{"values":[{}]},"mark":{"type":"text","text":"Arctic Sea Ice Extent","align":"center","baseline":"middle","fontSize":6,"font":"Liberation Sans","color":"#333"},
 "encoding":{"x":{"datum":196.2,"type":"quantitative","scale":{"domain":[64.7,512.52],"nice":false,"zero":false},"axis":null},
  "y":{"datum":15.49,"type":"quantitative","scale":{"domain":[-12.738,17.404],"nice":false,"zero":false},"axis":null}}},
{"data":{"values":[{}]},"mark":{"type":"text","text":"(Area of ocean with at least 15% sea ice)","align":"center","baseline":"middle","fontSize":3.8,"font":"Liberation Sans","color":"#444"},
 "encoding":{"x":{"datum":196.2,"type":"quantitative","scale":{"domain":[64.7,512.52],"nice":false,"zero":false},"axis":null},
  "y":{"datum":14.83,"type":"quantitative","scale":{"domain":[-12.738,17.404],"nice":false,"zero":false},"axis":null}}},
{"data":{"values":[{}]},"mark":{"type":"text","text":"Extent (millions of square kilometers)","align":"center","baseline":"middle","angle":270,"fontSize":4.2,"font":"Liberation Sans","color":"#444"},
 "encoding":{"x":{"datum":106.9,"type":"quantitative","scale":{"domain":[64.7,512.52],"nice":false,"zero":false},"axis":null},
  "y":{"datum":9.98,"type":"quantitative","scale":{"domain":[-12.738,17.404],"nice":false,"zero":false},"axis":null}}},
{"data":{"values":[{}]},"mark":{"type":"text","text":"2007","align":"left","baseline":"middle","fontSize":5.3,"font":"Liberation Sans","color":"#4db1e6"},
 "encoding":{"x":{"datum":131,"type":"quantitative","scale":{"domain":[64.7,512.52],"nice":false,"zero":false},"axis":null},
  "y":{"datum":7.14,"type":"quantitative","scale":{"domain":[-12.738,17.404],"nice":false,"zero":false},"axis":null}}},
{"data":{"values":[{}]},"mark":{"type":"text","text":"2005 Record Low","align":"left","baseline":"middle","fontSize":5.3,"font":"Liberation Sans","color":"#2e8b57"},
 "encoding":{"x":{"datum":131,"type":"quantitative","scale":{"domain":[64.7,512.52],"nice":false,"zero":false},"axis":null},
  "y":{"datum":6.72,"type":"quantitative","scale":{"domain":[-12.738,17.404],"nice":false,"zero":false},"axis":null}}},
{"data":{"values":[{}]},"mark":{"type":"text","text":"1979 – 2000 Average","align":"left","baseline":"middle","fontSize":5.3,"font":"Liberation Sans","color":"#999"},
 "encoding":{"x":{"datum":131,"type":"quantitative","scale":{"domain":[64.7,512.52],"nice":false,"zero":false},"axis":null},
  "y":{"datum":6.27,"type":"quantitative","scale":{"domain":[-12.738,17.404],"nice":false,"zero":false},"axis":null}}},
{"data":{"values":[{}]},"mark":{"type":"rule","color":"#4db1e6","strokeWidth":0.9},
 "encoding":{"x":{"datum":120.6,"type":"quantitative","scale":{"domain":[64.7,512.52],"nice":false,"zero":false},"axis":null},"x2":{"datum":128.5},
  "y":{"datum":7.14,"type":"quantitative","scale":{"domain":[-12.738,17.404],"nice":false,"zero":false},"axis":null}}},
{"data":{"values":[{}]},"mark":{"type":"rule","color":"#5e9e8a","strokeWidth":0.9,"strokeDash":[2,1.5]},
 "encoding":{"x":{"datum":120.6,"type":"quantitative","scale":{"domain":[64.7,512.52],"nice":false,"zero":false},"axis":null},"x2":{"datum":128.5},
  "y":{"datum":6.72,"type":"quantitative","scale":{"domain":[-12.738,17.404],"nice":false,"zero":false},"axis":null}}},
{"data":{"values":[{}]},"mark":{"type":"rule","color":"#7a7a7a","strokeWidth":0.9},
 "encoding":{"x":{"datum":120.6,"type":"quantitative","scale":{"domain":[64.7,512.52],"nice":false,"zero":false},"axis":null},"x2":{"datum":128.5},
  "y":{"datum":6.27,"type":"quantitative","scale":{"domain":[-12.738,17.404],"nice":false,"zero":false},"axis":null}}},
{"data":{"values":[{}]},"mark":{"type":"text","text":"National Snow and Ice Data Center, Boulder CO","align":"center","baseline":"middle","angle":270,"fontSize":3.5,"font":"Liberation Sans","color":"#444"},
 "encoding":{"x":{"datum":278.3,"type":"quantitative","scale":{"domain":[64.7,512.52],"nice":false,"zero":false},"axis":null},
  "y":{"datum":7.97,"type":"quantitative","scale":{"domain":[-12.738,17.404],"nice":false,"zero":false},"axis":null}}},
{"data":{"values":[{}]},"mark":{"type":"point","shape":"M-0.41,0A0.41,1,0,1,0,0.41,0A0.41,1,0,1,0,-0.41,0Z","size":1936,"filled":false,"color":"#111","strokeWidth":2,"opacity":1},
 "encoding":{"x":{"datum":181.4,"type":"quantitative","scale":{"domain":[64.7,512.52],"nice":false,"zero":false},"axis":null},
  "y":{"datum":9.53,"type":"quantitative","scale":{"domain":[-12.738,17.404],"nice":false,"zero":false},"axis":null}}},
{"data":{"values":[{}]},"mark":{"type":"rule","color":"#111","strokeWidth":2},
 "encoding":{"x":{"datum":190.4,"type":"quantitative","scale":{"domain":[64.7,512.52],"nice":false,"zero":false},"axis":null},"x2":{"datum":250.4},
  "y":{"datum":7.76,"type":"quantitative","scale":{"domain":[-12.738,17.404],"nice":false,"zero":false},"axis":null},"y2":{"datum":2.44}}},
{"data":{"values":[{}]},"mark":{"type":"rule","color":"#111","strokeWidth":2},
 "encoding":{"x":{"datum":268.5,"type":"quantitative","scale":{"domain":[64.7,512.52],"nice":false,"zero":false},"axis":null},"x2":{"datum":284.1},
  "y":{"datum":0.81,"type":"quantitative","scale":{"domain":[-12.738,17.404],"nice":false,"zero":false},"axis":null},"y2":{"datum":-2.45}}}
]
}
],
"resolve":{"scale":{"x":"independent","y":"independent"}}
}
